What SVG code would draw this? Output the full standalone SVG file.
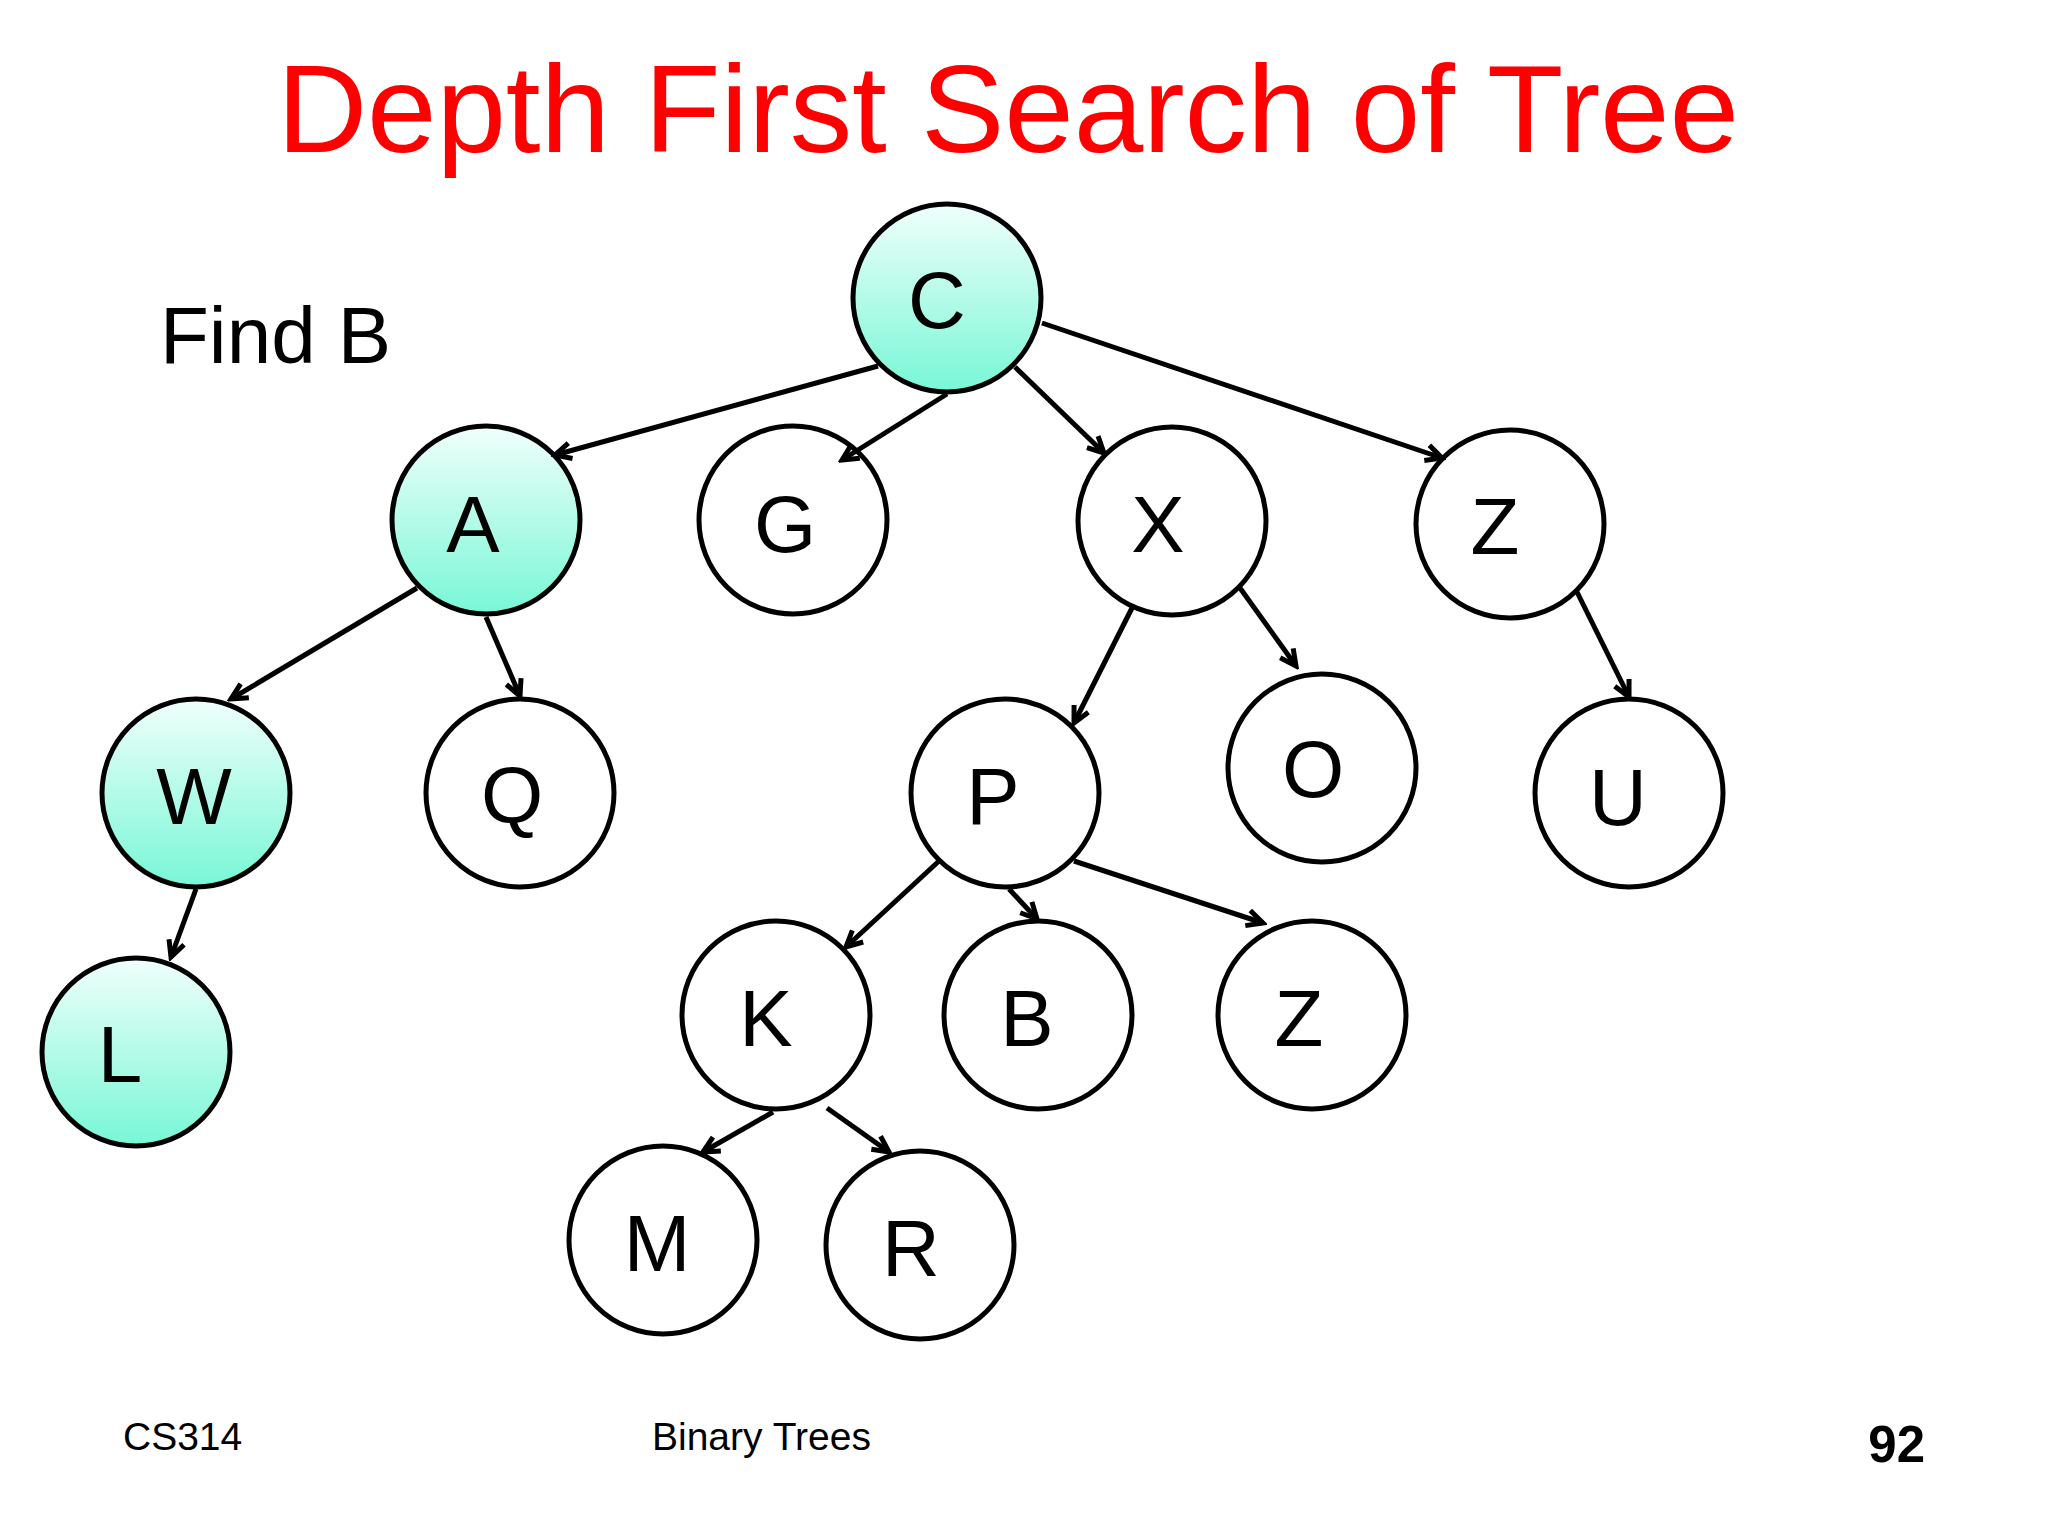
<svg xmlns="http://www.w3.org/2000/svg" width="2048" height="1536" viewBox="0 0 2048 1536">
<defs>
<linearGradient id="mint" x1="0" y1="0" x2="0" y2="1">
<stop offset="0" stop-color="#F0FFFB"/>
<stop offset="1" stop-color="#78F7D6"/>
</linearGradient>
<marker id="arr" markerUnits="userSpaceOnUse" viewBox="-22 -12 26 24" refX="0" refY="0" markerWidth="26" markerHeight="24" orient="auto">
<path d="M-16,-8 L0,0 L-16,8" fill="none" stroke="#000" stroke-width="5" stroke-linejoin="miter"/>
</marker>
</defs>
<style>
.n{stroke:#000;stroke-width:5;fill:#fff}
.v{fill:url(#mint)}
.lbl{font-family:"Liberation Sans",Arial,sans-serif;font-size:80px;fill:#000;text-anchor:middle}
.e{stroke:#000;stroke-width:5;fill:none;marker-end:url(#arr)}
.ft{font-family:"Liberation Sans",Arial,sans-serif;font-size:39px;fill:#000}
</style>
<rect width="2048" height="1536" fill="#fff"/>
<text x="1008" y="152" font-family="'Liberation Sans',Arial,sans-serif" font-size="125" fill="#FF0000" text-anchor="middle" textLength="1462">Depth First Search of Tree</text>
<text x="160" y="363" font-family="'Liberation Sans',Arial,sans-serif" font-size="80" fill="#000">Find B</text>
<g id="node-C"><circle class="n v" cx="947" cy="298" r="94"/><text class="lbl" x="937" y="328">C</text></g>
<g id="node-A"><circle class="n v" cx="486" cy="520" r="94"/><text class="lbl" x="473" y="552">A</text></g>
<g id="node-G"><circle class="n" cx="793" cy="520" r="94"/><text class="lbl" x="785" y="552">G</text></g>
<g id="node-X"><circle class="n" cx="1172" cy="521" r="94"/><text class="lbl" x="1158" y="552">X</text></g>
<g id="node-Z"><circle class="n" cx="1510" cy="524" r="94"/><text class="lbl" x="1495" y="554">Z</text></g>
<g id="node-W"><circle class="n v" cx="196" cy="793" r="94"/><text class="lbl" x="194" y="824">W</text></g>
<g id="node-Q"><circle class="n" cx="520" cy="793" r="94"/><text class="lbl" x="512" y="823">Q</text></g>
<g id="node-P"><circle class="n" cx="1005" cy="793" r="94"/><text class="lbl" x="993" y="824">P</text></g>
<g id="node-O"><circle class="n" cx="1322" cy="768" r="94"/><text class="lbl" x="1313" y="797">O</text></g>
<g id="node-U"><circle class="n" cx="1629" cy="793" r="94"/><text class="lbl" x="1618" y="825">U</text></g>
<g id="node-L"><circle class="n v" cx="136" cy="1052" r="94"/><text class="lbl" x="120" y="1082">L</text></g>
<g id="node-K"><circle class="n" cx="776" cy="1015" r="94"/><text class="lbl" x="766" y="1046">K</text></g>
<g id="node-B"><circle class="n" cx="1038" cy="1015" r="94"/><text class="lbl" x="1027" y="1046">B</text></g>
<g id="node-Z2"><circle class="n" cx="1312" cy="1015" r="94"/><text class="lbl" x="1299" y="1046">Z</text></g>
<g id="node-M"><circle class="n" cx="663" cy="1240" r="94"/><text class="lbl" x="657" y="1271">M</text></g>
<g id="node-R"><circle class="n" cx="920" cy="1245" r="94"/><text class="lbl" x="911" y="1276">R</text></g>
<g id="connectors">
<line class="e" x1="878" y1="366" x2="555" y2="455"/>
<line class="e" x1="947" y1="394" x2="842" y2="460"/>
<line class="e" x1="1015" y1="367" x2="1104" y2="453"/>
<line class="e" x1="1042" y1="323" x2="1442" y2="458"/>
<line class="e" x1="417" y1="588" x2="231" y2="699"/>
<line class="e" x1="486" y1="617" x2="520" y2="696"/>
<line class="e" x1="196" y1="889" x2="171" y2="957"/>
<line class="e" x1="1132" y1="608" x2="1074" y2="723"/>
<line class="e" x1="1240" y1="588" x2="1296" y2="666"/>
<line class="e" x1="1577" y1="592" x2="1629" y2="697"/>
<line class="e" x1="939" y1="861" x2="846" y2="947"/>
<line class="e" x1="1009" y1="889" x2="1037" y2="919"/>
<line class="e" x1="1074" y1="861" x2="1263" y2="923"/>
<line class="e" x1="773" y1="1112" x2="703" y2="1152"/>
<line class="e" x1="827" y1="1108" x2="889" y2="1152"/>
</g>
<text class="ft" x="123" y="1450">CS314</text>
<text class="ft" x="652" y="1450">Binary Trees</text>
<text x="1925" y="1462" font-family="'Liberation Sans',Arial,sans-serif" font-size="51" font-weight="bold" fill="#000" text-anchor="end">92</text>
</svg>
